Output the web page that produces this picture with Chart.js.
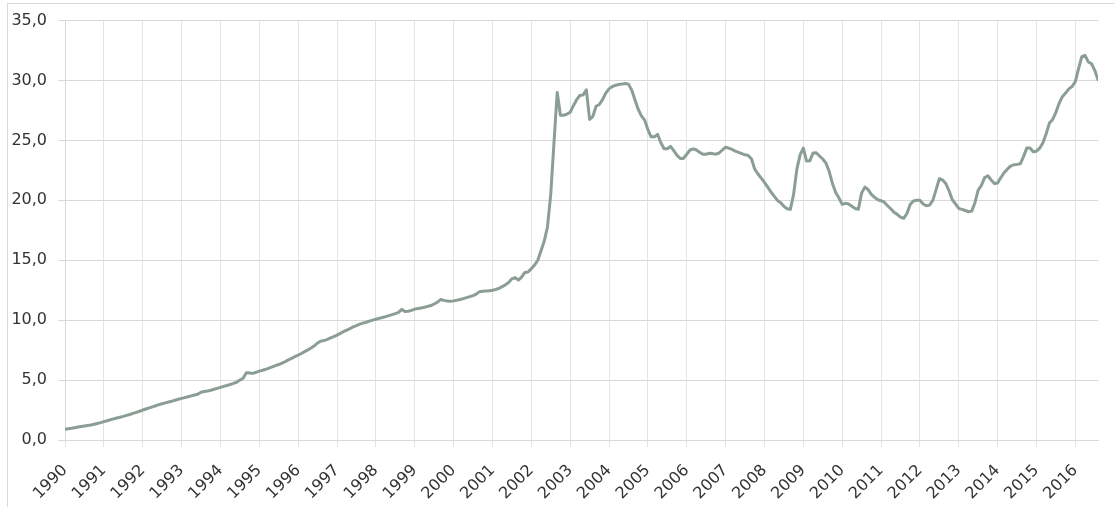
<!DOCTYPE html>
<html>
<head>
<meta charset="utf-8">
<script src="https://cdn.jsdelivr.net/npm/chart.js@4.4.1/dist/chart.umd.min.js"></script>
<style>
  html, body { margin:0; padding:0; background:#fff; overflow:hidden; }
  #wrap { position:relative; width:1114px; height:507px; }
  #frame { position:absolute; left:7px; top:3px; width:1200px; height:600px; border:1px solid #d9d9d9; }
  canvas { position:absolute; left:0; top:0; }
</style>
</head>
<body>
<div id="wrap">
  <div id="frame"></div>
  <canvas id="chart" width="1114" height="507"></canvas>
</div>
<script>
// Serie mensual, enero 1990 - agosto 2016
const startYear = 1990;
const yearLabels = [1990,1991,1992,1993,1994,1995,1996,1997,1998,1999,2000,2001,2002,2003,
  2004,2005,2006,2007,2008,2009,2010,2011,2012,2013,2014,2015,2016];
const yTicks = [0,5,10,15,20,25,30,35];

const monthlyValues = [
  0.90,0.94,0.98,1.03,1.08,1.13,1.17,1.21,1.25,1.31,1.38,1.45,          // 1990
  1.53,1.61,1.69,1.76,1.83,1.90,1.97,2.05,2.13,2.22,2.31,2.40,          // 1991
  2.50,2.59,2.68,2.77,2.86,2.95,3.03,3.10,3.17,3.24,3.32,3.40,          // 1992
  3.47,3.54,3.61,3.68,3.75,3.82,3.98,4.05,4.08,4.15,4.23,4.31,          // 1993
  4.39,4.47,4.55,4.63,4.72,4.82,5.00,5.15,5.62,5.60,5.56,5.65,          // 1994
  5.75,5.82,5.90,6.00,6.10,6.20,6.30,6.42,6.54,6.68,6.82,6.95,          // 1995
  7.08,7.22,7.37,7.52,7.68,7.86,8.10,8.25,8.30,8.40,8.52,8.63,          // 1996
  8.75,8.90,9.04,9.17,9.30,9.44,9.55,9.67,9.75,9.83,9.92,10.00,         // 1997
  10.08,10.15,10.22,10.30,10.38,10.46,10.55,10.65,10.90,10.72,10.75,10.82, // 1998
  10.92,10.98,11.02,11.08,11.15,11.22,11.35,11.50,11.72,11.65,11.60,11.58, // 1999
  11.61,11.66,11.72,11.80,11.88,11.96,12.05,12.18,12.38,12.42,12.44,12.46, // 2000
  12.50,12.56,12.66,12.80,12.95,13.15,13.45,13.55,13.35,13.60,13.98,14.02, // 2001
  14.30,14.60,15.00,15.80,16.60,17.80,20.50,24.80,29.00,27.10,27.10,27.20, // 2002
  27.35,27.90,28.40,28.75,28.80,29.22,26.75,27.00,27.85,28.00,28.40,28.95, // 2003
  29.30,29.50,29.60,29.67,29.70,29.75,29.70,29.20,28.40,27.60,27.05,26.70, // 2004
  25.90,25.30,25.30,25.50,24.80,24.30,24.30,24.50,24.15,23.75,23.50,23.50, // 2005
  23.85,24.20,24.30,24.20,24.00,23.85,23.85,23.93,23.90,23.85,23.95,24.20, // 2006
  24.44,24.35,24.25,24.10,24.00,23.90,23.80,23.75,23.45,22.60,22.20,21.85, // 2007
  21.50,21.10,20.70,20.35,20.00,19.80,19.50,19.30,19.25,20.50,22.60,23.80, // 2008
  24.36,23.28,23.30,23.95,23.97,23.70,23.45,23.10,22.40,21.40,20.65,20.20, // 2009
  19.67,19.75,19.70,19.50,19.32,19.25,20.60,21.10,20.90,20.50,20.25,20.05, // 2010
  19.97,19.85,19.55,19.30,19.00,18.83,18.60,18.50,18.90,19.65,19.95,20.00, // 2011
  20.00,19.70,19.55,19.60,20.00,20.90,21.80,21.70,21.40,20.80,20.05,19.70, // 2012
  19.32,19.25,19.15,19.05,19.10,19.80,20.85,21.25,21.90,22.05,21.70,21.40, // 2013
  21.45,21.90,22.30,22.60,22.85,22.97,23.00,23.05,23.65,24.36,24.36,24.05, // 2014
  24.10,24.35,24.80,25.55,26.45,26.75,27.35,28.10,28.65,28.95,29.30,29.50, // 2015
  29.90,31.00,32.00,32.10,31.55,31.40,30.85,30.06                         // 2016
];

const LINE_COLOR = '#8a9e93';
const GRID_COLOR = '#d9d9d9';
const TEXT_COLOR = '#333333';
const FONT = '"DejaVu Sans", sans-serif';

function fmtComma(v){ return Number(v).toFixed(1).replace('.', ','); }

const points = monthlyValues.map((v, i) => ({ x: startYear + i/12, y: v }));

Chart.defaults.font.family = FONT;
Chart.defaults.color = TEXT_COLOR;

new Chart(document.getElementById('chart'), {
  type: 'line',
  data: {
    datasets: [{
      data: points,
      borderColor: LINE_COLOR,
      borderWidth: 3,
      pointRadius: 0,
      tension: 0,
      borderJoinStyle: 'round',
      borderCapStyle: 'round'
    }]
  },
  options: {
    responsive: false,
    animation: false,
    events: [],
    layout: { padding: { left: 0, top: 20, right: 16, bottom: 0 } },
    plugins: { legend: { display: false }, tooltip: { enabled: false } },
    scales: {
      x: {
        type: 'linear',
        min: startYear,
        max: startYear + (monthlyValues.length - 1) / 12,
        afterBuildTicks: axis => { axis.ticks = yearLabels.map(y => ({ value: y })); },
        afterFit: axis => { axis.height = 67; },
        grid: { color: '#e4e4e4', tickLength: 7 },
        border: { color: GRID_COLOR },
        ticks: {
          font: { size: 16 },
          minRotation: 45, maxRotation: 45, padding: 14,
          autoSkip: false,
          callback: v => String(v)
        }
      },
      y: {
        min: 0, max: 35,
        afterBuildTicks: axis => { axis.ticks = yTicks.map(v => ({ value: v })); },
        afterFit: axis => { axis.width = 65; },
        grid: { color: GRID_COLOR, tickLength: 7 },
        border: { color: GRID_COLOR },
        ticks: { font: { size: 16 }, padding: 11, callback: v => fmtComma(v) }
      }
    }
  }
});
</script>
</body>
</html>
